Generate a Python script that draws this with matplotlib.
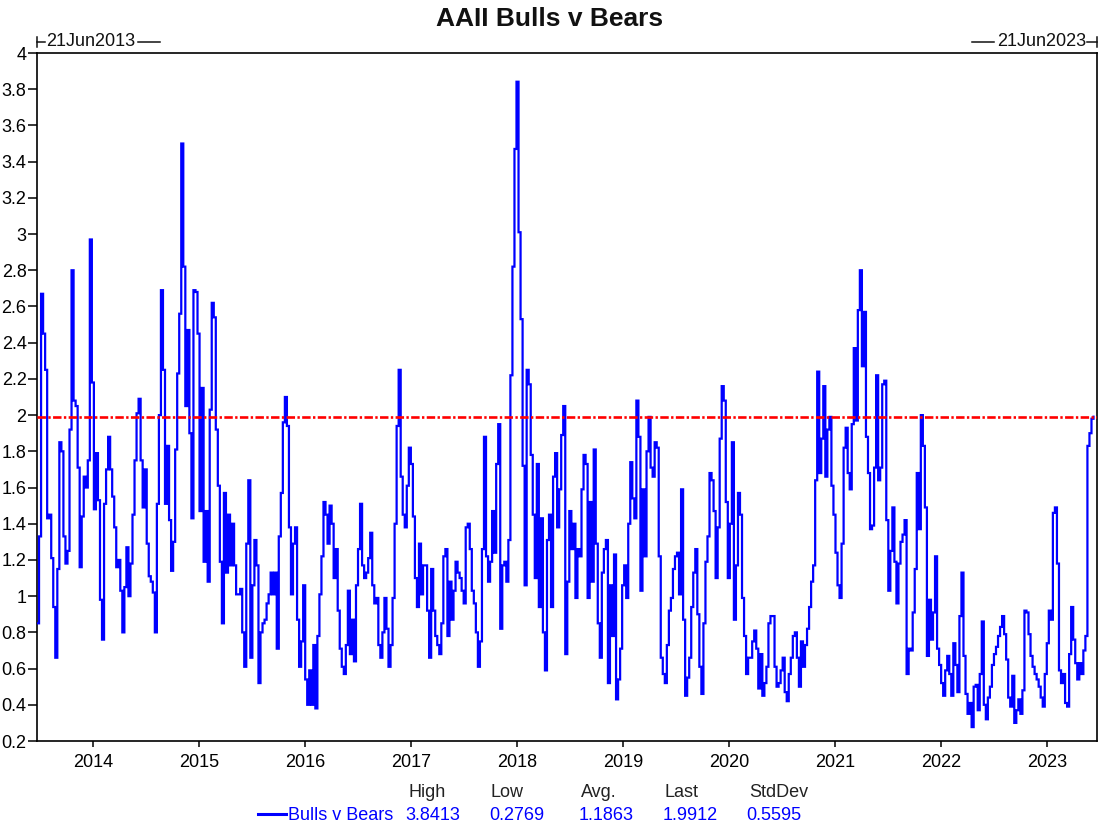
import matplotlib
matplotlib.use("Agg")
import matplotlib.pyplot as plt
from matplotlib.lines import Line2D
from matplotlib.ticker import FuncFormatter
import pandas as pd

plt.rcParams['font.family'] = ['Liberation Sans', 'DejaVu Sans']

# ---------------- data ----------------
title = "AAII Bulls v Bears"
series_name = "Bulls v Bears"
start_label = "21Jun2013"
end_label = "21Jun2023"
first_date = "2013-06-21"
last_date = "2023-06-21"
stat_names = ["High", "Low", "Avg.", "Last", "StdDev"]
stat_values = ["3.8413", "0.2769", "1.1863", "1.9912", "0.5595"]
reference_level = 1.9912
y_ticks = [0.2, 0.4, 0.6, 0.8, 1.0, 1.2, 1.4, 1.6, 1.8, 2.0, 2.2, 2.4, 2.6,
           2.8, 3.0, 3.2, 3.4, 3.6, 3.8, 4.0]
year_ticks = ["2014", "2015", "2016", "2017", "2018", "2019", "2020", "2021",
              "2022", "2023"]

values_2013_14 = [
    0.85, 1.33, 2.67, 2.45, 2.25, 1.43, 1.45, 1.21, 0.94, 0.66,
    1.15, 1.85, 1.80, 1.33, 1.18, 1.25, 1.92, 2.80, 2.08, 2.05,
    1.71, 1.16, 1.44, 1.66, 1.60, 1.75, 2.97, 2.18, 1.48, 1.79,
    1.53, 0.98, 0.76, 1.51, 1.70, 1.88, 1.70, 1.55, 1.38, 1.16,
    1.20, 1.03, 0.80, 1.05, 1.27, 1.00, 1.18, 1.45, 1.75, 2.01,
    2.09, 1.75]
values_2014_15 = [
    1.49, 1.70, 1.29, 1.11, 1.08, 1.02, 0.80, 1.51, 2.00, 2.69,
    2.25, 1.51, 1.83, 1.42, 1.14, 1.30, 1.81, 2.23, 2.56, 3.50,
    2.82, 2.05, 2.47, 1.90, 1.43, 2.69, 2.68, 2.45, 1.47, 2.15,
    1.19, 1.47, 1.08, 2.03, 2.62, 2.54, 1.92, 1.61, 1.19, 0.85,
    1.57, 1.13, 1.45, 1.17, 1.40, 1.17, 1.01, 1.01, 1.04, 0.80,
    0.61, 1.29]
values_2015_16 = [
    1.64, 0.66, 1.06, 1.31, 1.17, 0.52, 0.80, 0.85, 0.87, 0.96,
    1.01, 1.13, 1.01, 1.13, 0.71, 1.33, 1.57, 1.96, 2.10, 1.94,
    1.38, 1.01, 1.29, 1.38, 0.87, 0.61, 0.75, 1.06, 0.54, 0.40,
    0.59, 0.40, 0.73, 0.38, 0.78, 1.01, 1.22, 1.52, 1.45, 1.29,
    1.50, 1.40, 1.10, 1.26, 0.92, 0.71, 0.61, 0.57, 0.73, 1.03,
    0.68, 0.87]
values_2016_17 = [
    0.64, 1.06, 1.26, 1.51, 1.17, 1.10, 1.13, 1.21, 1.35, 1.06,
    0.96, 0.99, 0.73, 0.66, 0.80, 0.99, 0.82, 0.61, 0.73, 0.99,
    1.40, 1.94, 2.25, 1.66, 1.45, 1.38, 1.61, 1.82, 1.73, 1.44,
    1.10, 0.94, 1.29, 1.01, 1.17, 1.17, 0.92, 0.66, 1.15, 0.92,
    0.78, 0.73, 0.68, 0.85, 1.22, 1.26, 0.78, 1.08, 0.87, 1.03,
    1.19, 1.13]
values_2017_18 = [
    1.10, 1.03, 0.96, 1.38, 1.40, 1.26, 1.03, 0.96, 0.80, 0.61,
    0.75, 1.26, 1.88, 1.22, 1.08, 1.19, 1.47, 1.24, 1.73, 1.95,
    0.82, 1.17, 1.19, 1.08, 1.31, 2.22, 2.82, 3.47, 3.8413, 3.01,
    2.53, 1.72, 1.06, 2.25, 2.17, 1.78, 1.45, 1.10, 1.73, 0.94,
    1.43, 0.80, 0.59, 1.31, 1.45, 0.94, 1.66, 1.79, 1.38, 1.59,
    1.89, 2.05]
values_2018_19 = [
    0.68, 1.08, 1.47, 1.26, 1.40, 0.99, 1.26, 1.22, 1.59, 1.78,
    1.73, 0.99, 1.52, 1.08, 1.81, 1.29, 0.85, 0.66, 1.13, 1.26,
    1.31, 0.52, 1.06, 0.78, 1.23, 0.43, 0.54, 0.71, 1.06, 1.17,
    0.99, 1.40, 1.74, 1.54, 1.43, 2.08, 1.88, 1.03, 1.59, 1.22,
    1.80, 1.99, 1.71, 1.66, 1.85, 1.82, 1.22, 0.66, 0.57, 0.52,
    0.73, 0.92]
values_2019_20 = [
    0.99, 1.15, 1.22, 1.24, 1.01, 1.59, 0.87, 0.45, 0.55, 0.66,
    0.94, 1.13, 1.26, 0.90, 0.61, 0.46, 0.85, 1.19, 1.33, 1.68,
    1.64, 1.47, 1.10, 1.38, 1.87, 2.16, 2.08, 1.52, 1.10, 1.40,
    1.85, 0.87, 1.17, 1.57, 1.45, 0.99, 0.78, 0.57, 0.66, 0.66,
    0.75, 0.81, 0.71, 0.49, 0.68, 0.45, 0.52, 0.61, 0.85, 0.89,
    0.89, 0.61]
values_2020_21 = [
    0.50, 0.52, 0.59, 0.66, 0.47, 0.42, 0.57, 0.66, 0.78, 0.80,
    0.66, 0.50, 0.75, 0.61, 0.73, 0.82, 0.94, 1.08, 1.17, 1.64,
    2.24, 1.68, 1.87, 2.16, 1.66, 1.92, 1.99, 1.61, 1.45, 1.24,
    1.06, 0.99, 1.29, 1.82, 1.93, 1.68, 1.59, 1.95, 2.37, 1.97,
    2.58, 2.80, 2.27, 2.57, 1.88, 1.68, 1.37, 1.39, 1.71, 2.22,
    1.64, 1.71]
values_2021_22 = [
    2.17, 2.19, 1.42, 1.03, 1.25, 1.49, 1.19, 0.96, 1.18, 1.30,
    1.34, 1.42, 0.57, 0.71, 0.70, 0.91, 1.15, 1.68, 1.37, 2.00,
    1.83, 1.49, 0.67, 0.98, 0.76, 0.91, 1.22, 0.71, 0.62, 0.52,
    0.45, 0.59, 0.67, 0.57, 0.45, 0.74, 0.62, 0.47, 0.89, 1.13,
    0.67, 0.46, 0.35, 0.41, 0.2769, 0.50, 0.51, 0.37, 0.57, 0.86,
    0.40, 0.32]
values_2022_23 = [
    0.44, 0.50, 0.62, 0.68, 0.72, 0.78, 0.83, 0.89, 0.79, 0.65,
    0.44, 0.39, 0.56, 0.30, 0.37, 0.43, 0.35, 0.48, 0.92, 0.91,
    0.79, 0.67, 0.61, 0.57, 0.54, 0.50, 0.44, 0.39, 0.57, 0.74,
    0.92, 0.87, 1.46, 1.49, 1.18, 0.59, 0.52, 0.57, 0.41, 0.39,
    0.68, 0.94, 0.76, 0.63, 0.54, 0.63, 0.57, 0.70, 0.78, 1.83,
    1.90, 1.98, 1.9912]

values = (values_2013_14 + values_2014_15 + values_2015_16 + values_2016_17 +
          values_2017_18 + values_2018_19 + values_2019_20 + values_2020_21 +
          values_2021_22 + values_2022_23)
dates = pd.date_range(first_date, periods=len(values), freq="7D")

# ---------------- figure ----------------
W, H = 1100, 824
fig = plt.figure(figsize=(W / 100, H / 100), dpi=100)
fig.patch.set_facecolor("white")


def fx(px):
    return px / W


def fy(py):
    return 1 - py / H


L, R, T, B = 37, 1097, 53, 741
ax = fig.add_axes([fx(L), fy(B), fx(R) - fx(L), fy(T) - fy(B)])

blue = "#0000FF"
ax.plot(dates, values, color=blue, lw=1.6, drawstyle="steps-post",
        solid_joinstyle="miter", zorder=3)
ax.axhline(reference_level, color="#FF0000", lw=1.9,
           dashes=(3.2, 0.9, 0.9, 0.9), zorder=4)

ax.set_xlim(pd.Timestamp(first_date), pd.Timestamp(last_date))
ax.set_ylim(0.2, 4.0)
ax.set_yticks(y_ticks)
ax.yaxis.set_major_formatter(FuncFormatter(lambda v, p: f"{round(v, 1):g}"))

ax.set_xticks([pd.Timestamp(f"{y}-01-01") for y in year_ticks])
ax.set_xticklabels(year_ticks)

ax.tick_params(axis="y", direction="out", length=6.5, width=1.1, pad=1,
               labelsize=13, colors="black")
ax.tick_params(axis="x", direction="out", length=4.5, width=1.1, pad=5,
               labelsize=13, colors="black")
for s in ax.spines.values():
    s.set_linewidth(1.2)
    s.set_color("black")

# title
fig.text(fx(550), fy(19), title, ha="center", va="center",
         fontsize=19, fontweight="bold", color="#111111")

# date range markers on top
ly = fy(42)
lc = "#111111"
fig.add_artist(Line2D([fx(37), fx(37)], [fy(37), fy(47)], color=lc, lw=1.1,
                      transform=fig.transFigure))
fig.add_artist(Line2D([fx(37), fx(45)], [ly, ly], color=lc, lw=1.1,
                      transform=fig.transFigure))
fig.text(fx(46), ly, start_label, ha="left", va="center", fontsize=13,
         color=lc)
fig.add_artist(Line2D([fx(138), fx(160)], [ly, ly], color=lc, lw=1.1,
                      transform=fig.transFigure))

fig.add_artist(Line2D([fx(1097), fx(1097)], [fy(37), fy(47)], color=lc,
                      lw=1.1, transform=fig.transFigure))
fig.add_artist(Line2D([fx(1087), fx(1097)], [ly, ly], color=lc, lw=1.1,
                      transform=fig.transFigure))
fig.text(fx(1086), ly, end_label, ha="right", va="center", fontsize=13,
         color=lc)
fig.add_artist(Line2D([fx(972), fx(994)], [ly, ly], color=lc, lw=1.1,
                      transform=fig.transFigure))

# stats block
header_x = [409, 491, 581, 665, 749]
value_x = [405, 489, 579, 663, 746]
for name, x in zip(stat_names, header_x):
    fig.text(fx(x), fy(797), name, ha="left", va="baseline", fontsize=13,
             color="#222222")
for val, x in zip(stat_values, value_x):
    fig.text(fx(x), fy(820), val, ha="left", va="baseline", fontsize=13,
             color=blue)
fig.add_artist(Line2D([fx(258), fx(286)], [fy(814), fy(814)], color=blue,
                      lw=2.2, transform=fig.transFigure))
fig.text(fx(288), fy(820), series_name, ha="left", va="baseline", fontsize=13,
         color=blue)

fig.savefig("out.png", dpi=100)
